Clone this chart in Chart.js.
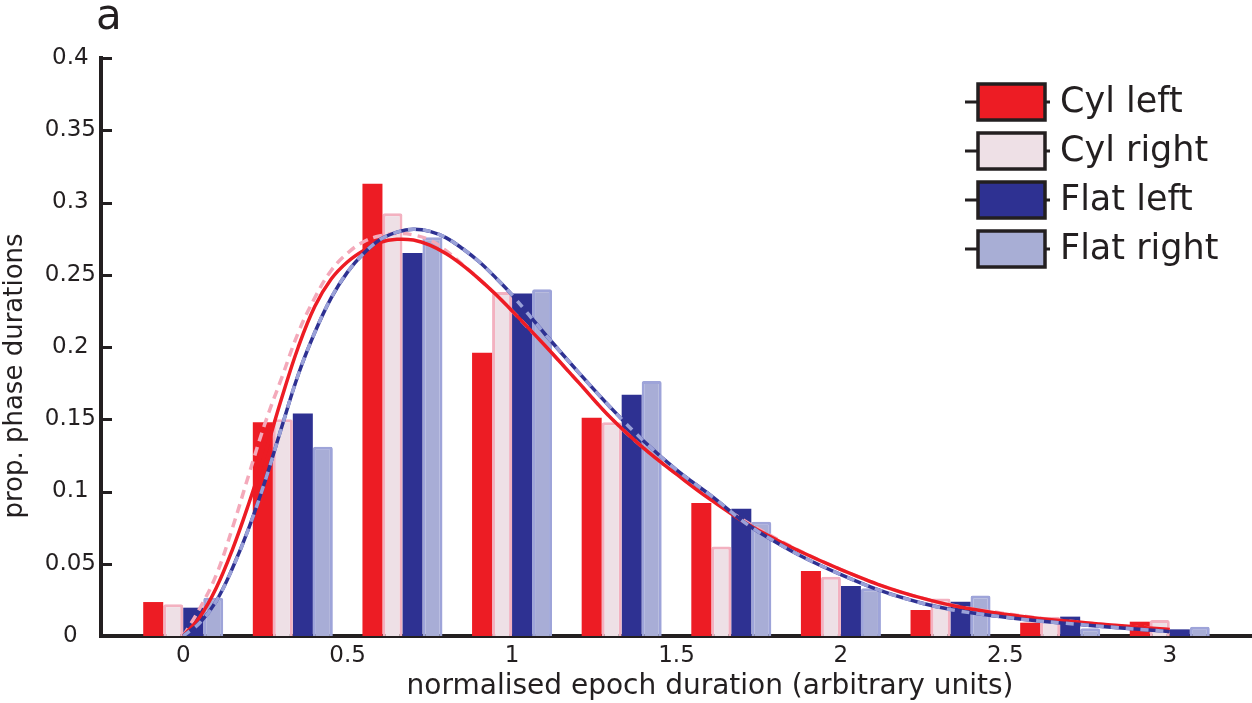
<!DOCTYPE html>
<html>
<head>
<meta charset="utf-8">
<title>normalised epoch duration</title>
<script src="https://cdn.jsdelivr.net/npm/chart.js@4.4.1/dist/chart.umd.min.js"></script>
<style>
  body { margin: 0; background: #fff; }
  canvas { display: block; }
</style>
</head>
<body>
<canvas id="durChart" width="1252" height="703"></canvas>
<script>
// histogram bins (normalised epoch duration)
var binCentres = [0, 0.3333, 0.6667, 1, 1.3333, 1.6667, 2, 2.3333, 2.6667, 3];

// proportion of phase durations per bin
var cylLeft   = [0.0235, 0.148, 0.313, 0.196, 0.151, 0.092, 0.045, 0.018, 0.0092, 0.0099];
var cylRight  = [0.022, 0.150, 0.2925, 0.238, 0.148, 0.062, 0.041, 0.026, 0.0134, 0.011];
var flatLeft  = [0.0196, 0.154, 0.265, 0.237, 0.167, 0.088, 0.0346, 0.0237, 0.0134, 0.0046];
var flatRight = [0.0265, 0.131, 0.276, 0.240, 0.1765, 0.079, 0.033, 0.028, 0.0053, 0.0064];

// fitted curves
var fitX = [0, 0.05, 0.1, 0.15, 0.2, 0.25, 0.3, 0.35, 0.4, 0.45, 0.5, 0.55, 0.6, 0.65, 0.7, 0.75,
            0.8, 0.85, 0.9, 0.95, 1.0, 1.1, 1.2, 1.3, 1.4, 1.5, 1.6, 1.75, 2.0, 2.25, 2.5, 2.75, 3.0];
var cylLeftFit   = [0, 0.013, 0.033, 0.060, 0.092, 0.127, 0.165, 0.200, 0.228, 0.247, 0.259, 0.267, 0.2725, 0.2745, 0.274, 0.2705,
                    0.2645, 0.2565, 0.247, 0.2365, 0.225, 0.201, 0.176, 0.151, 0.130, 0.112, 0.095, 0.073, 0.046, 0.026, 0.015, 0.009, 0.0045];
var cylRightFit  = [0, 0.019, 0.042, 0.075, 0.112, 0.148, 0.179, 0.210, 0.234, 0.253, 0.265, 0.273, 0.277, 0.2785, 0.2775, 0.274,
                    0.2665, 0.257, 0.247, 0.2365, 0.225, 0.201, 0.176, 0.151, 0.130, 0.112, 0.096, 0.074, 0.046, 0.026, 0.0155, 0.009, 0.0045];
var flatLeftFit  = [0, 0.009, 0.024, 0.047, 0.075, 0.108, 0.145, 0.181, 0.210, 0.234, 0.252, 0.265, 0.2745, 0.2795, 0.2815, 0.2800,
                    0.2755, 0.268, 0.259, 0.248, 0.236, 0.209, 0.183, 0.158, 0.135, 0.115, 0.098, 0.072, 0.0425, 0.0225, 0.013, 0.0075, 0.003];
var flatRightFit = [0, 0.009, 0.024, 0.047, 0.075, 0.108, 0.145, 0.181, 0.210, 0.234, 0.252, 0.265, 0.2745, 0.2795, 0.2815, 0.2800,
                    0.2755, 0.268, 0.259, 0.248, 0.236, 0.209, 0.183, 0.158, 0.135, 0.115, 0.098, 0.072, 0.0425, 0.0225, 0.013, 0.0075, 0.003];

var xTicks = [0, 0.5, 1, 1.5, 2, 2.5, 3];
var xTickLabels = ['0', '0.5', '1', '1.5', '2', '2.5', '3'];
var yTicks = [0, 0.05, 0.1, 0.15, 0.2, 0.25, 0.3, 0.35, 0.4];
var yTickLabels = ['0', '0.05', '0.1', '0.15', '0.2', '0.25', '0.3', '0.35', '0.4'];

var barNames = ['Cyl left', 'Cyl right', 'Flat left', 'Flat right'];
var panelLetter = 'a';
var xTitle = 'normalised epoch duration (arbitrary units)';
var yTitle = 'prop. phase durations';

var ink = '#231f20';
var red = '#ed1c24', pinkFill = '#eee0e6', pinkEdge = '#f3b1c0';
var navy = '#2e3192', lilacFill = '#a8add6', lilacEdge = '#9ea4d9';

Chart.defaults.font.family = '"DejaVu Sans", sans-serif';
Chart.defaults.color = ink;

function pts(xs, ys) {
    return xs.map(function (x, i) { return { x: x, y: ys[i] }; });
}

function barSet(label, values, fill, edge, width) {
    return {
        type: 'bar',
        label: label,
        data: pts(binCentres, values),
        backgroundColor: fill,
        borderColor: edge,
        borderWidth: width,
        borderRadius: width ? 2 : 0,
        categoryPercentage: 0.73,
        barPercentage: 1,
        order: 10
    };
}

function fitSet(label, values, colour, dash, order) {
    return {
        type: 'line',
        label: label,
        data: pts(fitX, values),
        borderColor: colour,
        borderWidth: 3.5,
        borderDash: dash,
        borderCapStyle: 'butt',
        pointRadius: 0,
        fill: false,
        tension: 0.4,
        order: order
    };
}

// inward y ticks, panel letter, axis titles and the boxed legend
var overlay = {
    id: 'overlay',
    afterDraw: function (chart) {
        var ctx = chart.ctx;
        var ys = chart.scales.y;
        var fills = [red, pinkFill, navy, '#a8aed5'];
        ctx.save();

        ctx.strokeStyle = ink;
        ctx.lineWidth = 3;
        yTicks.forEach(function (v) {
            var py = Math.round(ys.getPixelForValue(v)) + 0.5;
            ctx.beginPath();
            ctx.moveTo(ys.right, py);
            ctx.lineTo(ys.right + 11, py);
            ctx.stroke();
        });

        ctx.fillStyle = ink;
        ctx.textBaseline = 'alphabetic';
        ctx.font = '42px "DejaVu Sans"';
        ctx.fillText(panelLetter, 96, 29);

        ctx.font = '28px "DejaVu Sans"';
        ctx.textAlign = 'center';
        ctx.fillText(xTitle, 710, 694);

        ctx.save();
        ctx.translate(15, 376);
        ctx.rotate(-Math.PI / 2);
        ctx.font = '26px "DejaVu Sans"';
        ctx.textBaseline = 'middle';
        ctx.fillText(yTitle, 0, 0);
        ctx.restore();

        ctx.font = '35px "DejaVu Sans"';
        ctx.textAlign = 'left';
        ctx.textBaseline = 'middle';
        barNames.forEach(function (name, i) {
            var cy = 102 + i * 49;
            ctx.strokeStyle = ink;
            ctx.lineWidth = 3;
            ctx.beginPath();
            ctx.moveTo(965, cy);
            ctx.lineTo(1050, cy);
            ctx.stroke();
            ctx.fillStyle = fills[i];
            ctx.fillRect(978, cy - 18, 67, 36);
            ctx.lineWidth = 3.5;
            ctx.strokeRect(978, cy - 18, 67, 36);
            ctx.fillStyle = ink;
            ctx.fillText(name, 1060, cy + 1);
        });
        ctx.restore();
    }
};

new Chart(document.getElementById('durChart').getContext('2d'), {
    type: 'bar',
    data: {
        datasets: [
            barSet(barNames[0], cylLeft, red, red, 0),
            barSet(barNames[1], cylRight, pinkFill, pinkEdge, 3),
            barSet(barNames[2], flatLeft, navy, navy, 0),
            barSet(barNames[3], flatRight, lilacFill, lilacEdge, 3),
            fitSet('Cyl right fit', cylRightFit, '#f4a9ba', [9, 6], 4),
            fitSet('Cyl left fit', cylLeftFit, red, [], 3),
            fitSet('Flat left fit', flatLeftFit, navy, [], 2),
            fitSet('Flat right fit', flatRightFit, '#9aa1d8', [8, 7], 1)
        ]
    },
    options: {
        responsive: false,
        animation: false,
        layout: { padding: { top: 58, right: 0, bottom: 0, left: 0 } },
        plugins: {
            legend: { display: false },
            tooltip: { enabled: false }
        },
        scales: {
            x: {
                type: 'linear',
                min: -0.25,
                max: 3.25,
                offset: false,
                z: 1,
                afterBuildTicks: function (s) { s.ticks = xTicks.map(function (v) { return { value: v }; }); },
                afterFit: function (s) { s.height = 67; },
                grid: { display: false, drawTicks: false, offset: false },
                border: { display: true, color: ink, width: 4 },
                ticks: {
                    autoSkip: false,
                    maxRotation: 0,
                    padding: 6,
                    font: { size: 23 },
                    color: ink,
                    callback: function (v, i) { return xTickLabels[i]; }
                }
            },
            y: {
                min: 0,
                max: 0.4,
                afterBuildTicks: function (s) { s.ticks = yTicks.map(function (v) { return { value: v }; }); },
                afterFit: function (s) { s.width = 101; },
                grid: { display: false, drawTicks: false },
                border: { display: true, color: ink, width: 4 },
                ticks: {
                    crossAlign: 'center',
                    padding: 5,
                    font: { size: 23 },
                    color: ink,
                    callback: function (v, i) { return yTickLabels[i]; }
                }
            }
        }
    },
    plugins: [overlay]
});
</script>
</body>
</html>
